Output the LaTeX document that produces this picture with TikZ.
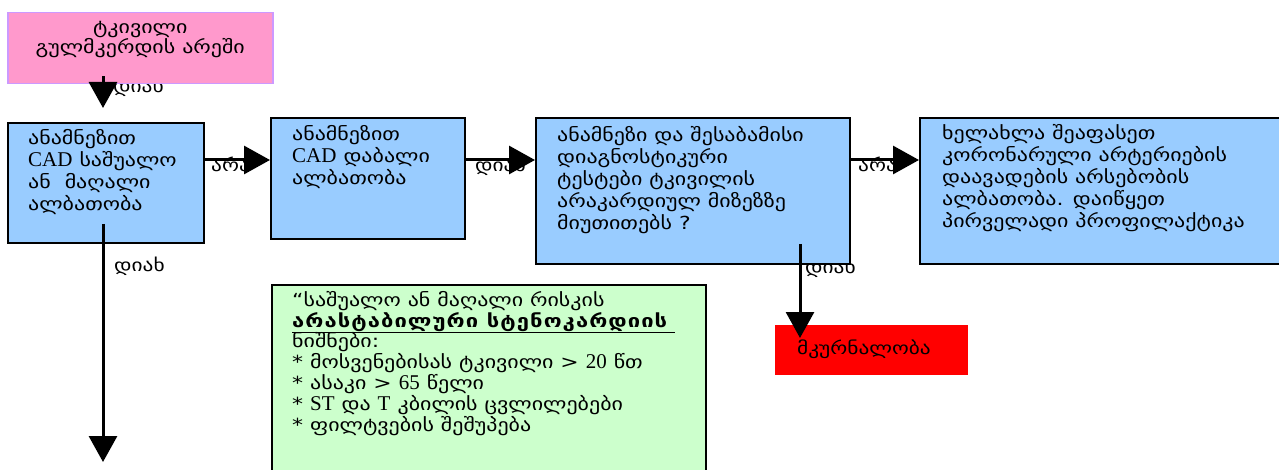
\documentclass[tikz,border=0pt]{standalone}
\usepackage{fontspec}
\setmainfont{Liberation Serif}
\newfontfamily\geofont[FakeStretch=1.22]{DejaVu Sans}
\newfontfamily\geospaced[FakeStretch=1.22,LetterSpace=6]{DejaVu Sans}
\usetikzlibrary{arrows.meta,positioning,calc}
\definecolor{painpink}{HTML}{FF99CC}
\definecolor{painedge}{HTML}{CC99FF}
\definecolor{stepblue}{HTML}{99CCFF}
\definecolor{riskgreen}{HTML}{CCFFCC}
\definecolor{treatred}{HTML}{FF0000}
\newcommand{\lat}[1]{{\rmfamily\fontsize{21}{21}\selectfont #1}}
\newcommand{\tightlines}{\lineskiplimit=-100pt\relax}

\begin{document}
\begin{tikzpicture}[
  x=1pt, y=-1pt,
  >={Triangle[length=26pt,width=28pt]},
  flowbox/.style={draw=black, line width=2pt, fill=stepblue, anchor=north west, inner sep=0pt},
  boxtext/.style={anchor=north west, align=left, inner sep=0pt,
                  font=\geofont\fontsize{18}{22}\selectfont\tightlines},
  flowlabel/.style={anchor=base west, inner sep=0pt, font=\geofont\fontsize{17.5}{21}\selectfont},
  flow/.style={->, draw=black, line width=3pt}
]
  \useasboundingbox (0,0) rectangle (1279,470);

  % labels that the boxes partly hide
  \node[flowlabel] (yestop) at (113,93) {დიახ};
  \node[flowlabel] (yestests) at (805,273) {დიახ};

  \node[draw=painedge, line width=1.5pt, fill=painpink, anchor=north west, inner sep=0pt,
        minimum width=265pt, minimum height=71pt] (pain) at (7,12) {};
  \node[align=center, inner sep=0pt, font=\geofont\fontsize{18}{20}\selectfont\tightlines] (paintxt)
        at ($(pain.center)+(0,-9)$) {ტკივილი\\გულმკერდის არეში};

  \node[flowbox, minimum width=196pt, minimum height=120pt] (high) at (7,122) {};
  \node[boxtext] (hightxt) at ($(high.north west)+(21,7)$)
        {ანამნეზით\\\lat{CAD} საშუალო\\ან \ მაღალი\\ალბათობა};

  \node[flowbox, minimum width=194pt, minimum height=121pt] (low) at (270,117) {};
  \node[boxtext] (lowtxt) at ($(low.north west)+(22,8)$)
        {ანამნეზით\\\lat{CAD} დაბალი\\ალბათობა};

  \node[flowbox, minimum width=314pt, minimum height=146pt] (tests) at (535,117) {};
  \node[boxtext] (teststxt) at ($(tests.north west)+(22,9)$)
        {ანამნეზი და შესაბამისი\\დიაგნოსტიკური\\ტესტები ტკივილის\\არაკარდიულ მიზეზზე\\მიუთითებს ?};

  \node[flowbox, minimum width=364pt, minimum height=146pt] (reassess) at (919,117) {};
  \node[boxtext] (reassesstxt) at ($(reassess.north west)+(23,7)$)
        {ხელახლა შეაფასეთ\\კორონარული არტერიების\\დაავადების არსებობის\\ალბათობა. დაიწყეთ\\პირველადი პროფილაქტიკა};

  \node[draw=black, line width=2pt, fill=riskgreen, anchor=north west, inner sep=0pt,
        minimum width=434pt, minimum height=200pt] (risk) at (271,284) {};
  \node[anchor=north west, align=left, inner sep=0pt,
        font=\geofont\fontsize{18}{20.8}\selectfont\tightlines] (risktxt)
        at ($(risk.north west)+(21,7)$)
        {“საშუალო ან მაღალი რისკის\\
         \underline{{\geospaced\bfseries არასტაბილური სტენოკარდიის}\hspace{8pt}}\\
         ნიშნები:\\
         * მოსვენებისას ტკივილი > \lat{20} წთ\\
         * ასაკი > \lat{65} წელი\\
         * \lat{ST} და \lat{T} კბილის ცვლილებები\\
         * ფილტვების შეშუპება};

  \node[fill=treatred, anchor=north west, inner sep=0pt,
        minimum width=193pt, minimum height=50pt] (treat) at (775,325) {};
  \node[flowlabel] (treattxt) at (797,354) {მკურნალობა};

  \node[flowlabel] (nohigh) at (211,172) {არა};
  \node[flowlabel] (yeslow) at (475,172) {დიახ};
  \node[flowlabel] (notests) at (858,172) {არა};
  \node[flowlabel] (yeshigh) at (114,272) {დიახ};

  \coordinate (row) at (0,160);
  \coordinate (downend) at (103,462);
  \coordinate (treatcol) at (800,0);

  \draw[flow] ($(pain.south -| downend)+(0,-8)$) -- ($(high.north -| downend)+(0,-14)$);
  \draw[flow] (high.east |- row) -- (low.west |- row);
  \draw[flow] (low.east |- row) -- (tests.west |- row);
  \draw[flow] (tests.east |- row) -- (reassess.west |- row);
  \draw[flow] ($(high.south -| downend)+(0,-20)$) -- (downend);
  \draw[flow] ($(tests.south -| treatcol)+(0,-21)$) -- ($(treat.north -| treatcol)+(0,13)$);
\end{tikzpicture}
\end{document}
